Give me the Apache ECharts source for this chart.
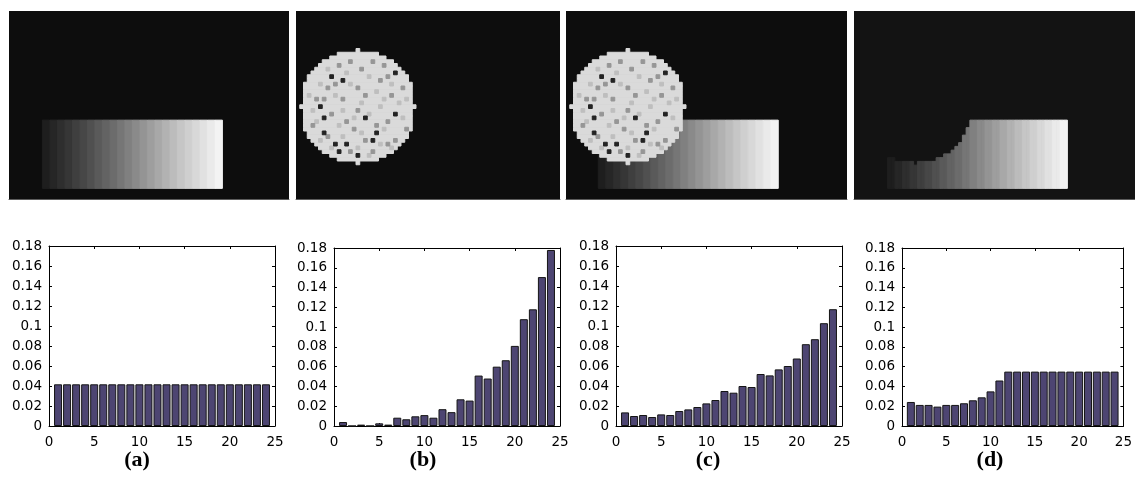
<!DOCTYPE html>
<html>
<head>
    <meta charset="UTF-8">
    <title>histograms</title>
    <script src="https://cdn.jsdelivr.net/npm/echarts@6/dist/echarts.min.js"></script>
    <style>
        html, body { margin: 0; padding: 0; background: #fff; }
        #main { width: 1135px; height: 478px; }
    </style>
</head>
<body>
<div id="main"></div>
<script type="text/javascript">
    // histogram bins and values
    var bins = [1, 2, 3, 4, 5, 6, 7, 8, 9, 10, 11, 12, 13, 14, 15, 16, 17, 18, 19, 20, 21, 22, 23, 24];
    var histA = [0.0417, 0.0417, 0.0417, 0.0417, 0.0417, 0.0417, 0.0417, 0.0417, 0.0417, 0.0417, 0.0417, 0.0417,
        0.0417, 0.0417, 0.0417, 0.0417, 0.0417, 0.0417, 0.0417, 0.0417, 0.0417, 0.0417, 0.0417, 0.0417];
    var histB = [0.004, 0, 0.0014, 0, 0.0027, 0.0014, 0.0084, 0.0068, 0.0098, 0.011, 0.0084, 0.017,
        0.014, 0.027, 0.0257, 0.051, 0.048, 0.060, 0.0665, 0.081, 0.108, 0.118, 0.1506, 0.178];
    var histC = [0.0136, 0.010, 0.011, 0.009, 0.0116, 0.011, 0.015, 0.0166, 0.019, 0.0226, 0.026, 0.035,
        0.0333, 0.040, 0.039, 0.052, 0.0506, 0.0566, 0.060, 0.0675, 0.0818, 0.0868, 0.1028, 0.1168];
    var histD = [0.0243, 0.0213, 0.0213, 0.0196, 0.0213, 0.0213, 0.023, 0.026, 0.029, 0.035, 0.046, 0.055,
        0.055, 0.055, 0.055, 0.055, 0.055, 0.055, 0.055, 0.055, 0.055, 0.055, 0.055, 0.055];
    var panelNames = ['(a)', '(b)', '(c)', '(d)'];

    // image content: gray level of the 24 stripes of the rectangle
    var stripeGray = [30, 38, 46, 54, 63, 71, 80, 90, 99, 108, 118, 128, 138, 148, 158, 168, 178, 188, 198, 207, 216, 225, 234, 243];
    // half width (in pixels) of each row of the disc, from centre row outwards
    var discHalfWidth = [15, 14, 14, 14, 14, 14, 14, 13, 13, 12, 11, 10, 9, 7, 5, 0];
    // dark, mid and soft gray pixels of the disc, offsets from its centre pixel
    var darkSpecks = [[-7, -8], [-4, -7], [10, -9], [-10, 0], [-9, 3], [10, 2], [-9, 7], [-6, 10], [-5, 12],
        [0, 13], [5, 7], [2, 3], [4, 9], [-3, 10]];
    var midSpecks = [[-2, -12], [4, -12], [-8, -5], [-6, -6], [0, -5], [6, -7], [8, -8], [-11, -2], [-4, -2],
        [2, -3], [9, -3], [12, -5], [-12, 5], [-7, 2], [-3, 4], [0, 1], [5, 5], [8, 4], [13, 6], [-8, 8],
        [-1, 6], [2, 9], [8, 10], [10, 9], [-2, 12], [4, 12], [-9, -2], [1, -10], [7, -11], [-5, -11]];
    var softSpecks = [[-10, -6], [-3, -9], [3, -8], [9, -6], [-12, 1], [-6, -3], [1, -1], [6, 0], [11, -1],
        [-11, 4], [-4, 1], [3, 2], [7, 6], [12, 3], [-10, 9], [-5, 5], [1, 7], [6, 10], [-7, 11], [0, 11],
        [3, 13], [-2, -6], [5, -4], [-8, -10], [9, 11], [-13, -3], [13, -2], [-1, 3], [7, -2], [-4, 8]];
    // rows missing at the top of each pixel column of the rectangle in (d)
    var cutRows = [10, 10, 11, 11, 11, 11, 11, 12, 11, 11, 11, 11, 11, 10, 10, 9, 9, 8, 7, 6, 4, 2];

    var CELL = 3.75;          // screen px per image pixel
    var IMG_TOP = 11, IMG_H = 188;
    var RECT_TOP = 29.1, RECT_ROWS = 18.2;
    var DISC_X = 16, DISC_Y = 25;
    var DISC_BASE = 218, DISC_SOFT = 190, DISC_MID = 150, DISC_DARK = 35;

    var topPanels = [
        {left: 9, width: 280, bg: '#0d0d0d', rect: 8.9, disc: false, cut: false},
        {left: 296, width: 264, bg: '#0d0d0d', rect: null, disc: true, cut: false},
        {left: 566, width: 281, bg: '#0d0d0d', rect: 8.6, disc: true, cut: false},
        {left: 854, width: 281, bg: '#131313', rect: 8.9, disc: false, cut: true}
    ];
    var botPanels = [
        {left: 49, top: 246, height: 180, label: 137},
        {left: 334, top: 248, height: 178, label: 423},
        {left: 616, top: 246, height: 180, label: 708},
        {left: 902, top: 248, height: 178, label: 990}
    ];
    var hists = [histA, histB, histC, histD];

    function buildCells(p) {
        var cells = [];
        if (p.rect !== null) {
            if (p.cut) {
                for (var c = 0; c < stripeGray.length * 2; c++) {
                    var drop = c < cutRows.length ? cutRows[c] : 0;
                    cells.push([p.rect + c, RECT_TOP + drop, 1, RECT_ROWS - drop, stripeGray[Math.floor(c / 2)]]);
                }
            } else {
                stripeGray.forEach(function (g, s) {
                    cells.push([p.rect + s * 2, RECT_TOP, 2, RECT_ROWS, g]);
                });
            }
        }
        if (p.disc) {
            for (var dy = -15; dy <= 15; dy++) {
                var hw = discHalfWidth[Math.abs(dy)];
                cells.push([DISC_X - hw, DISC_Y + dy, hw * 2 + 1, 1, DISC_BASE]);
            }
            softSpecks.forEach(function (s) {
                cells.push([DISC_X + s[0], DISC_Y + s[1], 1, 1, DISC_SOFT]);
            });
            midSpecks.forEach(function (s) {
                cells.push([DISC_X + s[0], DISC_Y + s[1], 1, 1, DISC_MID]);
            });
            darkSpecks.forEach(function (s) {
                cells.push([DISC_X + s[0], DISC_Y + s[1], 1, 1, DISC_DARK]);
            });
        }
        return cells;
    }

    function renderCell(params, api) {
        var x = api.value(0), y = api.value(1);
        var a = api.coord([x, y]);
        var b = api.coord([x + api.value(2), y + api.value(3)]);
        var g = api.value(4);
        var c = 'rgb(' + g + ',' + g + ',' + g + ')';
        return {
            type: 'rect',
            shape: {
                x: Math.min(a[0], b[0]), y: Math.min(a[1], b[1]),
                width: Math.abs(b[0] - a[0]), height: Math.abs(b[1] - a[1])
            },
            style: {fill: c, stroke: c, lineWidth: 1}
        };
    }

    var grids = [], xAxes = [], yAxes = [], series = [], texts = [];

    topPanels.forEach(function (p, i) {
        grids.push({left: p.left, top: IMG_TOP, width: p.width, height: IMG_H,
            show: true, backgroundColor: p.bg, borderWidth: 0});
        xAxes.push({gridIndex: i, type: 'value', min: 0, max: p.width / CELL, position: 'bottom',
            axisLine: {show: true, onZero: false, lineStyle: {color: '#5c5c5c'}},
            axisTick: {show: false}, axisLabel: {show: false}, splitLine: {show: false}});
        yAxes.push({gridIndex: i, type: 'value', min: 0, max: IMG_H / CELL, inverse: true, show: false});
        series.push({
            type: 'custom', xAxisIndex: i, yAxisIndex: i, silent: true,
            renderItem: renderCell, data: buildCells(p), clip: true
        });
    });

    var tickFont = {fontFamily: 'DejaVu Sans', fontSize: 13.5, color: '#000'};
    botPanels.forEach(function (p, i) {
        var g = 4 + i;
        grids.push({left: p.left, top: p.top, width: 226, height: p.height});
        var xi = xAxes.length, yi = yAxes.length;
        xAxes.push({gridIndex: g, type: 'value', min: 0, max: 25, interval: 5, position: 'bottom',
            axisLine: {show: true, onZero: false, lineStyle: {color: '#000', width: 1}},
            axisTick: {show: true, inside: true, length: 3, lineStyle: {color: '#000'}},
            axisLabel: Object.assign({margin: 9}, tickFont), splitLine: {show: false}});
        xAxes.push({gridIndex: g, type: 'value', min: 0, max: 25, interval: 5, position: 'top',
            axisLine: {show: true, onZero: false, lineStyle: {color: '#000', width: 1}},
            axisTick: {show: true, inside: true, length: 3, lineStyle: {color: '#000'}},
            axisLabel: {show: false}, splitLine: {show: false}});
        yAxes.push({gridIndex: g, type: 'value', min: 0, max: 0.18, interval: 0.02, position: 'left',
            axisLine: {show: true, onZero: false, lineStyle: {color: '#000', width: 1}},
            axisTick: {show: true, inside: true, length: 3, lineStyle: {color: '#000'}},
            axisLabel: Object.assign({margin: 7}, tickFont), splitLine: {show: false}});
        yAxes.push({gridIndex: g, type: 'value', min: 0, max: 0.18, interval: 0.02, position: 'right',
            axisLine: {show: true, onZero: false, lineStyle: {color: '#000', width: 1}},
            axisTick: {show: true, inside: true, length: 3, lineStyle: {color: '#000'}},
            axisLabel: {show: false}, splitLine: {show: false}});
        series.push({
            type: 'bar', xAxisIndex: xi, yAxisIndex: yi, barWidth: 8, silent: true,
            itemStyle: {color: '#4d4572', borderColor: '#151515', borderWidth: 1},
            data: bins.map(function (b, k) { return [b, hists[i][k]]; })
        });
        texts.push({
            type: 'text', x: p.label, y: 460,
            style: {text: panelNames[i], fill: '#000', font: 'bold 22px "Liberation Serif"',
                textAlign: 'center', textVerticalAlign: 'middle'}
        });
    });

    var myChart = echarts.init(document.getElementById('main'));
    myChart.setOption({
        animation: false,
        backgroundColor: '#fff',
        grid: grids,
        xAxis: xAxes,
        yAxis: yAxes,
        series: series,
        graphic: texts
    });
</script>
</body>
</html>
